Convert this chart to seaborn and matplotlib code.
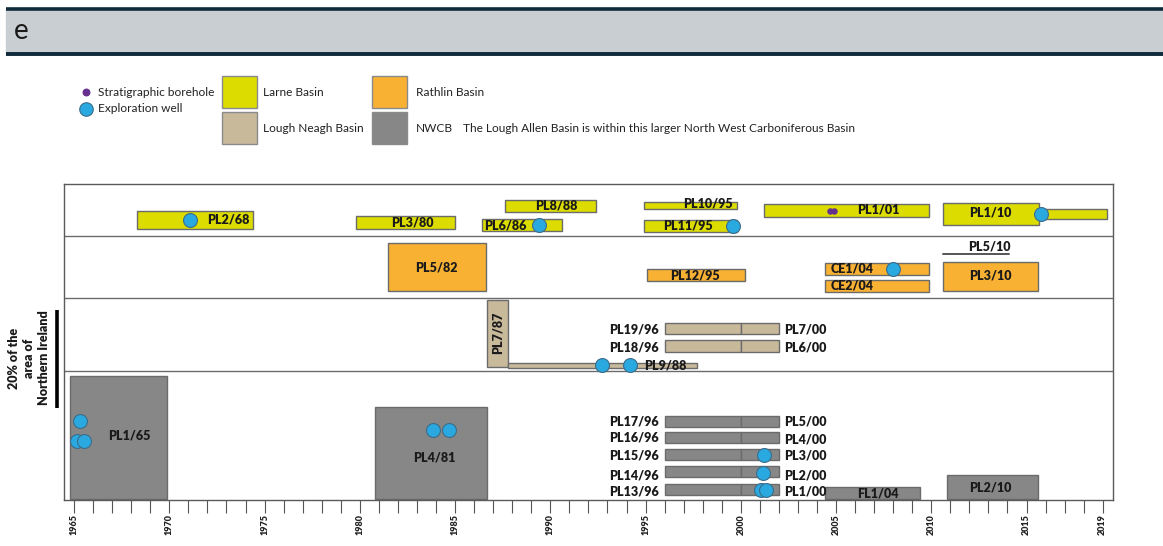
import matplotlib
matplotlib.use("Agg")
import matplotlib.pyplot as plt
import seaborn as sns
import pandas as pd
import numpy as np

sns.set_theme(style="white")
plt.rcParams['font.family'] = ['Lato', 'DejaVu Sans']

# ---------------- data ----------------
licence = ["PL2/68", "PL3/80", "PL8/88", "PL6/86", "PL10/95", "PL11/95", "PL1/01", "PL1/10", "",
           "PL5/82", "PL12/95", "CE1/04", "CE2/04", "PL3/10",
           "PL7/87", "PL9/88", "PL19/96", "PL7/00", "PL18/96", "PL6/00",
           "PL1/65", "PL4/81", "PL17/96", "PL5/00", "PL16/96", "PL4/00", "PL15/96", "PL3/00",
           "PL14/96", "PL2/00", "PL13/96", "PL1/00", "FL1/04", "PL2/10"]
basin = ["Larne"] * 9 + ["Rathlin"] * 5 + ["Lough Neagh"] * 6 + ["NWCB"] * 14
start_year = [1968.3, 1979.8, 1987.6, 1986.4, 1994.9, 1994.9, 2001.2, 2010.6, 2015.65,
              1981.5, 1995.1, 2004.4, 2004.4, 2010.6,
              1986.7, 1987.8, 1996.0, 2000.0, 1996.0, 2000.0,
              1964.8, 1980.8, 1996.0, 2000.0, 1996.0, 2000.0, 1996.0, 2000.0,
              1996.0, 2000.0, 1996.0, 2000.0, 2004.4, 2010.8]
end_year = [1974.4, 1985.0, 1992.4, 1990.6, 1999.8, 1999.8, 2009.9, 2015.65, 2019.2,
            1986.6, 2000.2, 2009.9, 2009.9, 2015.6,
            1987.8, 1997.7, 2000.0, 2002.0, 2000.0, 2002.0,
            1969.9, 1986.7, 2000.0, 2002.0, 2000.0, 2002.0, 2000.0, 2002.0,
            2000.0, 2002.0, 2000.0, 2002.0, 2009.4, 2015.6]

well_year = [1971.1, 1989.4, 1999.6, 2015.75, 2008.0, 1992.7, 1994.2,
             1965.3, 1965.15, 1965.5, 1983.85, 1984.7, 2001.2, 2001.15, 2001.05, 2001.3]
borehole_year = [2004.7, 2004.9]

year_ticks = [1965, 1970, 1975, 1980, 1985, 1990, 1995, 2000, 2005, 2010, 2015, 2019]

# ---------------- layout (pixel-like vertical positions, 0 = top of frame) ----------------
bar_top = [27, 32, 16, 35, 18, 36, 20, 19, 25,
           59, 85, 79, 96, 78,
           116, 179, 139, 139, 156, 156,
           192, 223, 232, 232, 248, 248, 265, 265,
           282, 282, 300, 300, 303, 291]
bar_bot = [45, 45, 28, 47, 25, 48, 33, 41, 35,
           107, 97, 91, 108, 107,
           183, 184, 150, 150, 168, 168,
           315, 315, 243, 243, 259, 259, 276, 276,
           293, 293, 311, 311, 315, 315]
# label: (x year, y, ha)
label_pos = [(1973.1, 36, "center"), (1982.75, 39, "center"), (1990.3, 22, "center"),
             (1986.55, 42, "left"), (1998.3, 20, "center"), (1997.25, 42, "center"),
             (2007.2, 26, "center"), (2013.1, 29, None),
             None,
             (1984.0, 84, "center"), (1997.6, 92, "center"), (2005.85, 85, "center"),
             (2005.85, 102, "center"), (2013.1, 92, "center"),
             None, (1994.9, 181, "left"), (1995.7, 145, "right"), (2002.3, 145, "left"),
             (1995.7, 163, "right"), (2002.3, 163, "left"),
             (1967.9, 251, "center"), (1983.9, 273, "center"),
             (1995.7, 237, "right"), (2002.3, 238, "left"), (1995.7, 254, "right"), (2002.3, 255, "left"),
             (1995.7, 271, "right"), (2002.3, 272, "left"), (1995.7, 292, "right"), (2002.3, 292, "left"),
             (1995.7, 308, "right"), (2002.3, 308, "left"), (2007.2, 309, "center"), (2013.1, 303, "center")]
well_y = [36, 41, 42, 30, 85, 181, 181, 237, 257, 257, 246, 246, 271, 289, 306, 306]
borehole_y = [27, 27]

colors = {"Larne": "#dcdc00", "Rathlin": "#f8b133", "Lough Neagh": "#c9b99b", "NWCB": "#878787"}
edge = "#6b6b6b"
LBL = dict(fontsize=9, fontweight="heavy", color="#1a1a1a")
LEG = dict(fontsize=8.6, va="center", color="#222222")

W, H = 1163, 546
fig = plt.figure(figsize=(W / 100, H / 100), dpi=100)

# overlay axes in pixel coordinates for header / legend
ov = fig.add_axes([0, 0, 1, 1])
ov.set_xlim(0, W)
ov.set_ylim(H, 0)
ov.axis("off")
ov.add_patch(plt.Rectangle((6, 10), W, 43, color="#c9ced2", zorder=0))
ov.plot([6, W], [9.0, 9.0], color="#0f2a3a", lw=2.6, solid_capstyle="butt")
ov.plot([6, W], [54.0, 54.0], color="#0f2a3a", lw=2.8, solid_capstyle="butt")
ov.text(14, 31, "e", fontsize=20, va="center", ha="left", color="#1a1a1a")

# legend
ov.scatter([86], [92], s=22, color="#66308f", zorder=3)
ov.scatter([86], [109], s=95, color="#2aa8e0", edgecolor="#3b6d8a", linewidth=0.8, zorder=3)
ov.text(98, 92, "Stratigraphic borehole", **LEG)
ov.text(98, 109, "Exploration well", **LEG)
for (x0, y0, b) in [(222, 76, "Larne"), (222, 112, "Lough Neagh"), (372, 76, "Rathlin"), (372, 112, "NWCB")]:
    ov.add_patch(plt.Rectangle((x0, y0), 35, 32, facecolor=colors[b], edgecolor="#8a8a8a", lw=1))
ov.text(263, 92, "Larne Basin", **LEG)
ov.text(263, 128, "Lough Neagh Basin", **LEG)
ov.text(416, 92, "Rathlin Basin", **LEG)
ov.text(416, 128, "NWCB", **LEG)
ov.text(463, 128, "The Lough Allen Basin is within this larger North West Carboniferous Basin", **LEG)

# scale bar on the left
ov.plot([57, 57], [310, 408], color="black", lw=2.6, solid_capstyle="butt")
ov.text(29, 358, "20% of the\narea of\nNorthern Ireland", rotation=90, ha="center", va="center",
        multialignment="center", linespacing=1.25, **LBL)

# ---------------- main axes ----------------
ax = fig.add_axes([64 / W, (H - 500) / H, 1049 / W, 316 / H])
ax.set_xlim(1964.47, 2019.54)
ax.set_ylim(316, 0)

df = pd.DataFrame({"licence": licence, "basin": basin, "start": start_year, "end": end_year,
                   "top": bar_top, "bot": bar_bot})
for i, r in df.iterrows():
    ax.barh(y=(r.top + r.bot) / 2, width=r.end - r.start, left=r.start, height=r.bot - r.top,
            color=colors[r.basin], edgecolor=edge, linewidth=1, zorder=2)
    lp = label_pos[i]
    if lp is None:
        continue
    ax.text(lp[0], lp[1], r.licence, ha=lp[2] or "center", va="center", zorder=4, **LBL)

# PL7/87 vertical label
ax.text(1987.25, 149, "PL7/87", rotation=90, ha="center", va="center", zorder=4, **LBL)
# PL5/10 label with line
ax.text(2013.05, 63, "PL5/10", ha="center", va="center", **LBL)
ax.plot([2010.6, 2014.1], [70, 70], color="#555555", lw=1.4)

# row separators
for yy in [52, 114, 187]:
    ax.axhline(yy, color="#6b6b6b", lw=1, zorder=1)

wells = pd.DataFrame({"year": well_year, "y": well_y})
sns.scatterplot(data=wells, x="year", y="y", ax=ax, s=100, color="#2aa8e0",
                edgecolor="#3b6d8a", linewidth=0.8, zorder=5, legend=False)
bh = pd.DataFrame({"year": borehole_year, "y": borehole_y})
sns.scatterplot(data=bh, x="year", y="y", ax=ax, s=22, color="#66308f", edgecolor="#66308f",
                linewidth=0, zorder=5, legend=False)

ax.set_xlabel("")
ax.set_ylabel("")
ax.set_yticks([])
ax.set_xticks(year_ticks)
ax.set_xticklabels([str(y) for y in year_ticks], rotation=90, fontsize=6.5, fontweight="heavy",
                   color="#222222")
ax.set_xticks(np.arange(1965, 2020), minor=True)
ax.tick_params(axis="x", which="both", direction="out", length=9, width=0.8, color="#555555",
               bottom=True, pad=1)
for s in ax.spines.values():
    s.set_color("#5a5a5a")
    s.set_linewidth(1)

fig.savefig("out.png", dpi=100)
